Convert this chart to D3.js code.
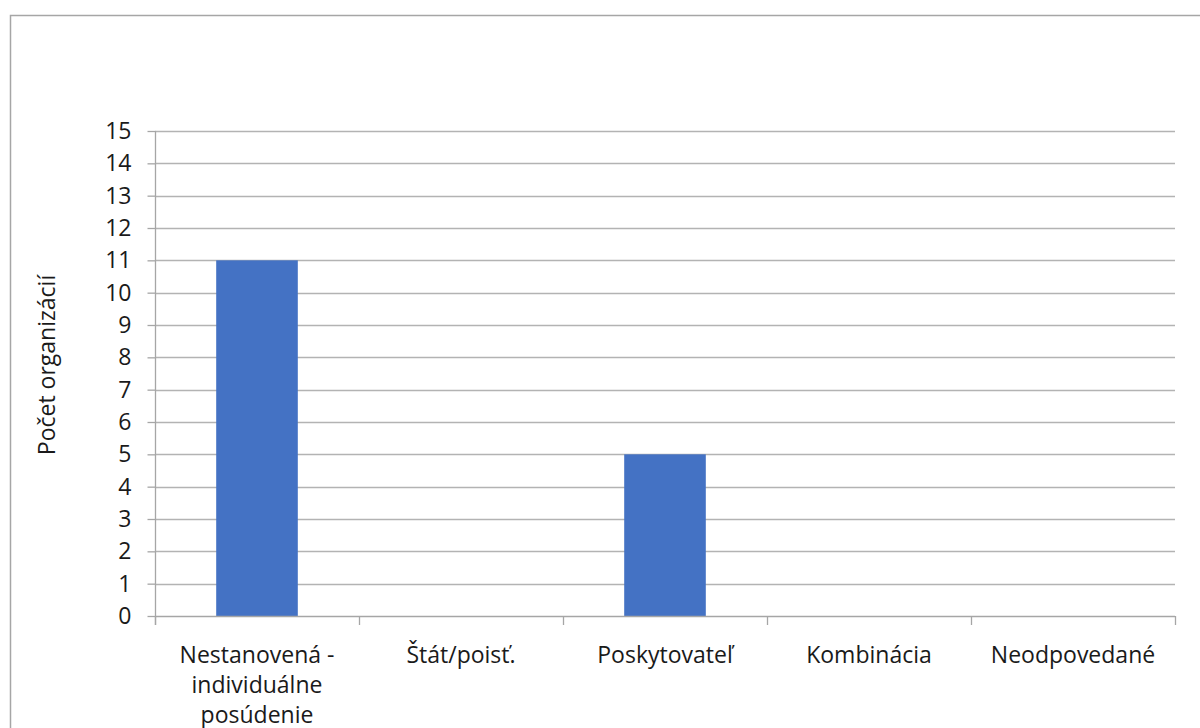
<!DOCTYPE html>
<html lang="sk">
<head>
<meta charset="UTF-8">
<title>Počet organizácií</title>
<script src="https://d3js.org/d3.v7.min.js"></script>
<style>
    body { margin: 0; background: #fff; }
    svg { display: block; font-family: "Open Sans", sans-serif; }
</style>
</head>
<body>
<svg width="1200" height="728"></svg>
<script>
    // data
    var categories = ["Nestanovená - individuálne posúdenie", "Štát/poisť.", "Poskytovateľ", "Kombinácia", "Neodpovedané"];
    var values = [11, 0, 5, 0, 0];
    var yTicks = d3.range(0, 16);
    var yTitle = "Počet organizácií";

    var svg = d3.select("svg");
    var plotLeft = 155, plotRight = 1175, plotTop = 131, plotBottom = 616;
    var fontSize = "23px", textColor = "#1a1a1a";

    // outer frame
    svg.append("rect")
        .attr("x", 10.5).attr("y", 15.5)
        .attr("width", 1200).attr("height", 800)
        .style("fill", "none").style("stroke", "#a6a6a6").style("stroke-width", 1.5);

    var x = d3.scaleBand().domain(categories).range([plotLeft, plotRight])
        .paddingInner(0.6).paddingOuter(0.3);
    var y = d3.scaleLinear().domain([0, 15]).range([plotBottom, plotTop]);

    // gridlines
    svg.append("g")
        .selectAll("line")
        .data(yTicks.filter(d => d > 0))
        .enter()
        .append("line")
        .attr("x1", plotLeft).attr("x2", plotRight)
        .attr("y1", d => Math.round(y(d)) + 0.5).attr("y2", d => Math.round(y(d)) + 0.5)
        .style("stroke", "#b3b3b3").style("stroke-width", 1.3);

    // bars
    svg.append("g")
        .selectAll("rect")
        .data(values)
        .enter()
        .append("rect")
        .attr("x", (d, i) => x(categories[i]))
        .attr("width", x.bandwidth())
        .attr("y", d => y(d))
        .attr("height", d => y(0) - y(d))
        .style("fill", "#4472c4");

    // y axis
    var yAxis = svg.append("g")
        .attr("transform", "translate(" + (plotLeft + 0.5) + ",0)")
        .call(d3.axisLeft(y).tickValues(yTicks).tickSize(8).tickPadding(16).tickFormat(d3.format("d")));
    yAxis.select(".domain").remove();
    yAxis.append("line").attr("y1", plotTop).attr("y2", plotBottom + 9)
        .style("stroke", "#a6a6a6").style("stroke-width", 1.3);
    yAxis.selectAll(".tick line").style("stroke", "#a6a6a6").style("stroke-width", 1.3);
    yAxis.selectAll(".tick text").style("font-size", fontSize).style("fill", textColor)
        .style("font-family", "'Open Sans', sans-serif");

    // x axis
    var bounds = categories.map(c => x(c) - x.step() * 0.3).concat([plotRight]);
    var xg = svg.append("g");
    xg.append("line")
        .attr("x1", plotLeft).attr("x2", plotRight)
        .attr("y1", plotBottom + 0.5).attr("y2", plotBottom + 0.5)
        .style("stroke", "#a6a6a6").style("stroke-width", 1.3);
    xg.selectAll("line.tk")
        .data(bounds)
        .enter()
        .append("line")
        .attr("class", "tk")
        .attr("x1", d => Math.round(d) + 0.5).attr("x2", d => Math.round(d) + 0.5)
        .attr("y1", plotBottom).attr("y2", plotBottom + 9)
        .style("stroke", "#a6a6a6").style("stroke-width", 1.3);

    var labels = xg.selectAll("text")
        .data(categories)
        .enter()
        .append("text")
        .attr("x", d => x(d) + x.bandwidth() / 2)
        .attr("y", 663)
        .attr("text-anchor", "middle")
        .style("font-size", fontSize)
        .style("fill", textColor)
        .text(d => d);
    labels.each(wrap);

    function wrap() {
        var text = d3.select(this);
        var words = text.text().split(/\s+/);
        var maxW = x.step() - 20;
        var cx = text.attr("x");
        text.text(null);
        var lines = [], line = [];
        var probe = text.append("tspan");
        words.forEach(w => {
            var trial = line.concat([w]).join(" ");
            probe.text(trial);
            if (probe.node().getComputedTextLength() > maxW && line.length) {
                lines.push(line.join(" "));
                line = [w];
            } else {
                line.push(w);
            }
        });
        lines.push(line.join(" "));
        probe.remove();
        lines.forEach((l, i) => {
            text.append("tspan").attr("x", cx).attr("dy", i === 0 ? 0 : 30).text(l);
        });
    }

    // y title
    svg.append("text")
        .attr("transform", "translate(55,365) rotate(-90)")
        .attr("text-anchor", "middle")
        .style("font-size", fontSize)
        .style("fill", textColor)
        .text(yTitle);
</script>
</body>
</html>
